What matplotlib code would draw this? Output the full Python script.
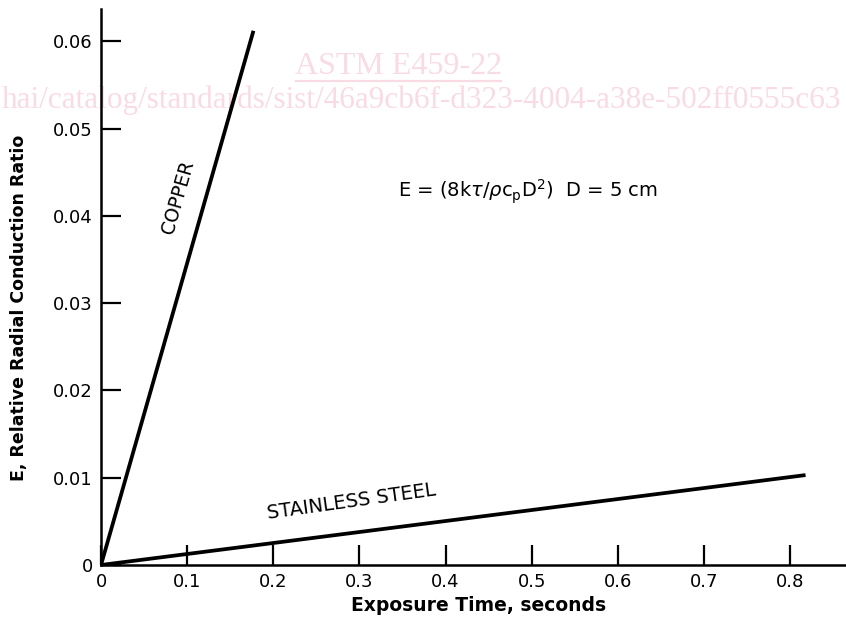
import numpy as np
import matplotlib.pyplot as plt

# exposure time (s) and ratio E
copper_t = [0.0, 0.177]
copper_e = [0.0, 0.0612]
steel_t = [0.0, 0.818]
steel_e = [0.0, 0.0103]

x_ticks = [0, 0.1, 0.2, 0.3, 0.4, 0.5, 0.6, 0.7, 0.8]
x_labels = ['0', '0.1', '0.2', '0.3', '0.4', '0.5', '0.6', '0.7', '0.8']
y_ticks = [0, 0.01, 0.02, 0.03, 0.04, 0.05, 0.06]
y_labels = ['0', '0.01', '0.02', '0.03', '0.04', '0.05', '0.06']

fig = plt.figure(figsize=(8.46, 6.27), dpi=100)
ax = fig.add_axes([0.1194, 0.0989, 0.8806, 0.8868])

# watermark (behind everything)
wm = '#f9dbe3'
fig.text(0.471, 0.894, 'ASTM E459-22', color=wm, fontsize=23, family='Liberation Serif',
         ha='center', va='center', zorder=-1)
fig.add_artist(plt.Line2D([0.350, 0.592], [0.871, 0.871], color=wm, lw=1.6,
                          transform=fig.transFigure, zorder=-1))
fig.text(0.002, 0.840, 'hai/catalog/standards/sist/46a9cb6f-d323-4004-a38e-502ff0555c63',
         color=wm, fontsize=22.5, family='Liberation Serif', ha='left', va='center', zorder=-1)
ax.patch.set_alpha(0)

ax.plot(copper_t, copper_e, color='black', lw=2.7, solid_capstyle='butt')
ax.plot(steel_t, steel_e, color='black', lw=2.7, solid_capstyle='butt')

ax.set_xlim(0, 0.865)
ax.set_ylim(0, 0.0637)
ax.set_xticks(x_ticks)
ax.set_xticklabels(x_labels, fontsize=13)
ax.set_yticks(y_ticks)
ax.set_yticklabels(y_labels, fontsize=13)
ax.tick_params(axis='both', direction='in', length=14.4, width=1.6, pad=6)
for s in ['top', 'right']:
    ax.spines[s].set_visible(False)
for s in ['left', 'bottom']:
    ax.spines[s].set_linewidth(1.8)

ax.set_xlabel('Exposure Time, seconds', fontsize=13.5, fontweight='bold')
ax.set_ylabel('E, Relative Radial Conduction Ratio', fontsize=12.5, fontweight='bold')
ax.xaxis.set_label_coords(0.507, -0.055)
ax.yaxis.set_label_coords(-0.098, 0.462)

ax.text(0.0894, 0.0421, 'COPPER', rotation=74, fontsize=13.5, ha='center', va='center')
ax.text(0.2903, 0.0072, 'STAINLESS STEEL', rotation=8, fontsize=14, ha='center', va='center')
ax.text(0.3448, 0.0427, r'E = (8k$\tau$/$\rho$c$_\mathregular{p}$D$^\mathregular{2}$)  D = 5 cm',
        fontsize=14, ha='left', va='center')

fig.savefig('out.png', dpi=100)
